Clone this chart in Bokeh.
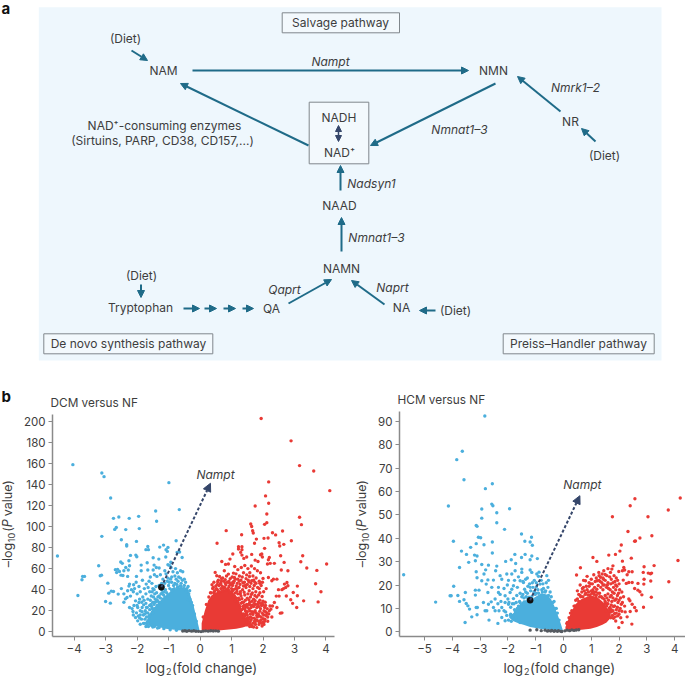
from math import pi
from bokeh.plotting import figure
from bokeh.layouts import column, row
from bokeh.models import Label, Arrow, NormalHead, FixedTicker
from bokeh.embed import file_html
from bokeh.resources import INLINE

FONT = "Inter"
TXT = "#3d3d3d"
BLUE = "#4bafdd"
RED = "#e93a35"
GREY = "#555a60"
TEAL = "#1f6b88"
NAVY = "#35466a"

pathway_boxes = [
    (281.7, 12.3, 399, 32.3),
    (308.7, 101.7, 368.3, 163.3),
    (43.3, 333.3, 212.3, 353.3),
    (502.7, 333.3, 653.7, 353.3),
]
plain_labels = [
    ("Salvage pathway", 340, 21.5), ("(Diet)", 125, 38), ("NAM", 163, 70), ("NMN", 493, 70),
    ("NR", 570, 121), ("(Diet)", 604, 155), ("NAD⁺-consuming enzymes", 164, 125),
    ("(Sirtuins, PARP, CD38, CD157,...)", 162, 140), ("NADH", 338.5, 117), ("NAD⁺", 339, 152),
    ("NAAD", 339, 205), ("NAMN", 341, 268), ("(Diet)", 141, 275), ("Tryptophan", 140, 307),
    ("QA", 271, 308), ("NA", 401, 307), ("(Diet)", 455, 310),
    ("De novo synthesis pathway", 128, 343), ("Preiss–Handler pathway", 578, 343),
]
italic_labels = [
    ("Nampt", 330, 61), ("Nmrk1–2", 575, 87), ("Nmnat1–3", 459, 129), ("Nadsyn1", 371, 183),
    ("Nmnat1–3", 376, 237), ("Qaprt", 284, 289), ("Naprt", 392, 287),
]
pathway_arrows = [
    (131, 50, 147, 60), (192, 70, 468, 70), (308, 145, 180, 83), (495, 83, 370, 145),
    (560, 111, 517, 76), (595, 141, 581, 128), (340, 190, 340, 165), (341, 251, 341, 217),
    (140.5, 284, 140.5, 297), (183, 308, 199, 308), (204, 308, 216, 308), (223, 308, 235, 308),
    (242, 308, 253, 308), (288, 303, 331, 279), (384, 304, 351, 280), (435, 310, 419, 310),
]

dcm_down = [
(-4.04,158.7),(-4.53,72),(-3.12,150.8),(-3.05,147.3),(-0.99,141.6),(-2.84,127),(-1.41,114.7),(-0.66,116),(-1.38,105),
(-2.75,107.7),(-2.58,109),(-2.25,107.7),(-1.95,109.6),(-2.66,99),(-2.71,97.2),(-2.36,97),(-1.93,98),(-3.12,90.6),
(-2.5,87.4),(-2.33,82.7),(-2.33,81.4),(-2.02,85.8),(-1.66,81),(-1.72,78),(-1.64,78),(-1.28,80.4),(-1.16,82.3),(-1.02,80.1),
(-1.08,78),(-1.04,76.3),(-0.76,86.5),(-0.73,75.4),(-0.65,75.7),(-0.57,70.6),(-2.21,72.5),(-2.04,72.8),(-2.01,71.3),
(-1.49,70.3),(-1.31,69),(-1.09,71),(-0.93,66),(-1.02,63.7),(-0.96,62.8),(-0.92,61.1),(-2.52,66.2),(-2.47,65),(-2.26,67.4),
(-2.24,62.7),(-2.36,61.1),(-2.28,58.6),(-3.22,62.7),(-2.69,59),(-2.62,59.3),(-2.56,57.3),(-2.65,56.3),(-2.42,58),
(-1.87,63.3),(-1.68,65.5),(-1.87,58),(-1.66,58.6),(-1.46,63.3),(-1.39,61.1),(-1.3,60.5),(-1.49,58.6),(-3.17,53.2),(-3.13,53.8),
(-3.73,52.6),(-3.67,52.6),(-3.75,49.4),(-2.51,53.8),(-2.45,53.5),(-2.3,52.6),(-2.93,46.2),(-2.02,52.6),(-2.24,45.3),(-2.26,43.4),
(-2.11,44.6),(-2.03,47),(-1.83,49),(-1.71,45.3),(-1.53,46),(-1.45,54.1),(-1.37,52.6),(-1.26,54.1),(-3.88,34.5),(-2.9,36.7),
(-2.82,38.6),(-2.75,38.3),(-2.6,35.8),(-3,28.8),(-2.85,27.2),(-2.42,28.1),(-2.37,31.3),(-2.32,32.6),(-2.21,33.9),(-2.24,23),
(-2.16,22),(-2.13,19.3),(-2.05,29.4),(-1.94,27.8),(-1.98,23),(-1.9,20),(-1.79,25.6),(-1.68,23),(-2.05,13.6),(-1.9,7.2),(-1.98,10.4),
(-1.84,23),(-1.7,18),(-1.75,12),(-1.8,8),(-1.6,25),(-1.5,28),(-1.42,31),(-1.3,34),(-1.2,37),(-1.1,40),(-1.0,44),(-0.9,47),
(-0.8,46),(-0.7,48),(-0.6,46),(-0.5,44),(-0.42,41),(-0.33,39),(-1.82,33),(-1.72,36),(-1.6,38),(-1.55,34),(-1.9,38),(-2.0,36),
(-2.12,38),(-2.18,40),(-1.77,41),(-1.65,42),(-1.46,40),(-1.38,37),(-1.3,44),(-1.12,46),(-1.02,51),(-0.9,52),(-0.8,53),(-0.72,56),
(-0.62,58),(-0.55,57),(-0.68,52),(-1.12,58),(-1.18,50),(-1.08,55),(-0.86,57),(-0.78,60),(-1.58,52),(-1.62,48),(-1.94,43),(-2.08,41),
(-1.52,22),(-1.62,15),(-1.66,10),(-1.58,8),(-1.72,5),(-1.45,5),(-1.3,4),(-1.15,3),(-0.95,2),(-0.75,1.5),(-1.9,16),(-2.02,18),
(-1.78,30),(-1.85,28),(-1.58,30),(-1.48,33),(-1.36,30),(-1.22,40),(-2.3,39),(-2.42,36),(-2.5,41),(-0.36,30),(-0.28,28),
(-0.24,20),(-0.2,14),(-0.98,47),(-0.72,42),(-0.88,40),(-1.7,14),(-1.8,16),(-1.86,12),(-1.74,20),(-1.66,18),(-1.6,21),(-1.54,24),
(-1.46,26),(-1.38,29),(-1.26,32),(-1.16,35),(-1.06,37),(-0.96,41),(-0.84,44),(-0.74,45),(-0.64,43.5),(-0.56,49),(-0.46,47),(-0.38,43),
(-1.22,46),(-1.16,43),(-1.04,48),(-0.94,50),(-0.76,50),(-0.62,51),(-0.5,50),(-1.44,36),(-1.52,38),(-1.4,43),(-1.5,41),(-1.66,31),
(-1.72,27),(-1.92,31),(-2.0,25),(-2.1,25),(-1.96,15),(-2.12,16),(-1.68,7),(-1.54,6),
(-1.68,9),(-1.62,12),(-1.6,16),(-1.5,18),(-1.46,22),(-1.36,25),(-1.3,28),(-1.18,31),(-1.12,33),(-1.02,35),(-0.9,39),(-0.82,41),
(-0.7,42),(-0.6,43),(-0.5,41),(-0.44,38),(-0.36,36),(-0.32,31),(-0.24,25),(-0.18,17),(-0.12,10),(-1.24,36),(-1.14,38),(-1.34,33),
(-1.42,28),(-1.56,26),(-1.7,23),(-1.76,17),(-1.84,19),(-1.92,13),(-1.76,8),(-1.64,5),(-1.5,4.5),(-1.35,3.5),
]
dcm_up = [
(1.94,202.5),(2.89,181.3),(3.16,157.8),(3.61,152.7),(2.18,142.3),(4.12,134),(2.08,129),(2.18,122),(1.75,119.4),(2.12,111.8),
(3.16,108.7),(2.12,103.6),(2.05,102),(3.22,101.7),(1.61,102.3),(1.64,100),(1.67,96),(1.69,93.8),(0.83,96),(2.3,94),(2.4,92),
(2.62,95.7),(1.32,92.2),(2.03,88.7),(2.16,89),(1.79,88),(1.73,84),(2.9,86.5),(0.54,84),(2.51,84.6),(2.53,81.4),(2.66,83),(2.05,79.2),
(1.22,80.8),(1.33,80.8),(1.22,78.5),(1.33,78),(1.29,75.4),(1.33,72.8),(1.39,69.7),(1.04,73.8),(0.95,69),(0.69,66.8),(0.81,64),
(0.9,64.3),(1.48,71),(1.64,73.5),(1.92,73.2),(1.96,73.8),(1.98,71),(1.75,68),(1.84,66.8),(2.2,70.6),(2.17,68.4),(2.14,64.3),(2.56,72.2),
(3.26,72.2),(3.2,66.5),(2.67,65.9),(4.02,64.3),(3.39,60.5),(3.71,58.3),(2.58,58.6),(2.79,58),(2.23,65),(2.36,65),(0.48,56.4),(0.53,53.2),
(0.77,58),(0.9,54.8),(1.06,55.7),(0.38,44.6),(0.58,49),(0.68,50.5),(3.67,45.6),(3.09,43.4),(3.84,38),(3.75,28.4),(3.29,29.4),(2.96,37.3),
(3.09,34.2),(2.88,30.4),(2.94,27),(3.07,23),(2.76,46.8),(2.68,45.3),(2.79,43.7),(2.72,42),(2.44,50),(2.33,50),(2.28,48.4),(2.17,51.6),
(2,50.7),(2.49,40),(2.6,40),(2.65,41),(2.51,33.9),(2.42,33.9),(2.74,34),(2.36,27.8),(2.3,24.5),(2.25,21.5),(2.44,23),(2.22,24.5),
(2.6,18),(2.55,17.7),(1.1,62),(1.2,59),(1.31,61),(1.42,63),(1.52,60),(1.63,62.5),(1.73,60),(1.82,58),(1.92,56),(1.02,52),(1.14,55),
(1.25,53),(1.38,56),(1.48,54),(1.58,56),(1.68,53),(1.78,51),(1.88,48),(0.55,45),(0.65,46),(0.76,48),(0.87,47),(0.97,45),(1.08,48),(1.18,46),
(1.3,49),(1.41,47),(1.53,49),(1.62,46),(1.72,44),(1.83,42),(1.94,44),(0.45,38),(0.55,40),(0.66,41),(0.78,42),(0.9,40),(1.02,38.5),
(1.13,41),(1.24,42),(1.35,40),(1.46,42),(1.56,39),(1.66,37),(1.77,38),(1.9,37),(2.02,38),(2.1,41),(0.4,33),(1.08,34),(1.2,36),(1.3,34),
(1.42,35),(1.5,32),(1.6,33),(1.7,31),(1.8,33),(1.9,30),(2.0,29),(1.38,28),(1.48,26),(1.58,28),(1.66,25),(1.75,26),(1.86,24),(1.95,25),
(2.05,23),(2.12,18),(2.02,16),(1.44,20),(1.55,22),(1.65,19),(1.75,20),(1.85,17),(1.94,14),(2.06,12),(2.15,14),(1.5,16),(1.6,14),
(1.72,13),(1.8,11),(1.9,9),(2.0,9),(1.58,9),(1.68,8),(1.76,7),(1.62,6),(1.5,11),(1.44,7),(2.2,20),(2.28,14),
(0.62,52.5),(0.72,51),(0.84,53),(0.96,50.5),(1.09,51.5),(1.2,50),(1.34,52),(1.46,50.5),(1.57,52.5),(1.7,49),
(0.42,42),(0.5,43.5),(0.6,44),(0.71,43),(0.82,44.5),(0.92,43),(1.03,44),(1.15,43.5),(1.27,45),(1.38,43.5),(1.5,45),(1.58,43),(1.68,41),(1.78,46),(1.88,41),
(0.36,37),(0.47,39),(0.58,37.5),(0.7,38.5),(0.82,40),(0.94,38),(1.06,40),(1.17,38.5),(1.28,38),(1.4,37.5),(1.52,36),(1.63,35.5),(1.74,34.5),(1.86,35),(1.97,33.5),
(1.15,32),(1.25,30.5),(1.33,31.5),(1.44,30),(1.55,30.5),(1.65,29),(1.75,29.5),(1.85,28),(1.97,27),(2.07,28),
(1.3,27),(1.4,25),(1.5,23.5),(1.6,25.5),(1.7,24),(1.8,23),(1.92,22),(2.03,20),(2.13,22),
(1.38,22),(1.47,18),(1.58,20),(1.68,16.5),(1.78,18),(1.9,19.5),(2.0,12.5),(2.1,15.5),
(1.42,15),(1.52,13.5),(1.62,11),(1.73,10),(1.82,14),(1.93,11),(2.03,7),(2.15,10),
(1.44,12),(1.55,7.5),(1.65,5),(1.75,9),(1.87,7),(1.97,5.5),(1.48,9.5),(1.58,5),(1.7,4.5),(1.8,4),
(0.1,14),(0.2,26),(0.28,33),(0.33,37),(0.4,41),(0.46,36),(0.52,41),(0.62,38),(0.66,45),(0.74,41),(0.8,46),(0.88,41),(0.94,46),(1.0,41),(1.05,46),
(1.12,37),(1.18,41),(1.22,32),(1.28,36),(1.34,28),(1.36,24),(1.42,22),(1.46,17),(1.5,13),(1.56,9),(1.6,7),(0.44,47),(0.56,47.5),(0.68,48),(0.8,49.5),
(0.92,48),(1.04,47),(1.12,50),(1.24,48),(1.36,46.5),(1.44,44),(1.55,47.5),(1.64,48.5),(1.74,47),(1.9,46),(1.98,47),(1.12,29),(1.2,28),(1.26,24),
(1.32,21),(1.38,17),(1.46,24),(1.54,26),(1.62,23),(1.72,27),(1.82,26),(1.9,27),(2.0,25.5),(2.08,25),(1.4,14),(1.5,19),(1.6,17),(1.7,18.5),(1.8,15.5),
(1.88,15),(1.98,17.5),(2.08,19),(2.18,17),(1.56,12),(1.66,13),(1.76,11.5),(1.86,10),(1.96,8),(2.05,10),
]
hcm_down = [
(-2.83,92.3),(-3.64,77.2),(-3.84,73.6),(-3.58,65),(-2.56,63.3),(-2.81,61.2),(-4.14,53.8),(-2.94,52.5),(-2.58,54.6),(-2.54,53.9),
(-1.94,52.6),(-2.4,50.9),(-2.94,48.6),(-2.4,46.6),(-3.14,45.5),(-3.11,45.1),(-2.12,43.8),(-1.51,41.8),(-1.15,40.4),(-1.39,38.7),
(-1.2,38.4),(-1.12,37),(-3.06,40.4),(-2.98,40.2),(-2.56,38.4),(-3.96,38.7),(-3.14,37.7),(-2.86,37.2),(-3.34,36.1),(-3.67,34.5),
(-2.56,33.7),(-3.49,33.1),(-3.2,32.8),(-3.11,32.4),(-1.75,33.1),(-1.38,33.1),(-1.51,31.8),(-1.14,32.4),(-0.94,31.3),(-1.72,29.2),
(-1.88,30.8),(-2.08,30.1),(-1.2,30.8),(-3.41,29.7),(-3.17,30.4),(-2.94,28.8),(-2.7,28.5),(-2.4,28.1),(-3.74,27.5),(-2.8,26.5),(-2.44,26.1),
(-3.14,25.7),(-2.86,24.7),(-3.11,23.1),(-2.94,21.8),(-2.72,22.2),(-2.52,22.1),(-5.75,24.4),(-2.28,24),(-2.22,22.5),(-2.04,24.7),
(-1.86,24.7),(-1.74,26.1),(-1.5,26.8),(-1.5,25.4),(-1.2,26.4),(-1.14,25.4),(-0.96,24.7),(-0.9,23.7),(-0.6,24),(-3.95,19.5),(-2.78,20.4),
(-2.58,19),(-2.34,19),(-3.17,17.8),(-3.04,17.8),(-2.72,16.8),(-2.34,16.8),(-2.1,15.4),(-1.92,16.8),(-1.8,19.7),(-1.56,21.8),(-1.44,21.1),
(-4.08,15.4),(-4.04,15.4),(-3.8,15.5),(-3.53,16.8),(-3.17,15.7),(-3.74,13),(-3.58,13.7),(-4.6,12.7),(-3.5,12.1),(-3.44,11.1),(-3.38,9.7),
(-3.1,10.4),(-3.14,10.4),(-2.88,12.5),(-2.7,11.8),(-2.76,9),(-2.46,9),(-2.52,10.4),(-2.22,10.4),(-1.98,11.8),(-3.3,6.4),(-3.11,7.3),
(-3.54,4),(-2.82,9),(-2.68,5),(-2.36,3.6),(-2.22,6.1),(-2.1,4.7),(-1.96,12.5),(-1.8,14.2),(-1.68,15.5),(-1.56,16.5),(-1.4,18.2),(-1.28,19.5),
(-1.1,19),(-0.98,19.2),(-0.84,20.4),(-0.72,18.5),(-0.56,19),(-0.48,17),(-1.66,19),(-1.86,18.2),(-2.02,20),(-1.36,22.5),(-1.22,20.5),
(-1.05,22),(-0.8,22),(-1.5,15),(-1.62,11),(-1.76,9.5),(-1.9,7.5),(-2.04,7),(-2.14,9),(-1.84,12),(-2.0,14),(-2.46,14),(-2.6,12.8),(-2.36,12),
(-2.25,13),(-0.34,13),(-0.26,10),(-1.98,5),(-1.72,6),(-1.56,4),(-1.3,16.5),(-1.18,17.5),(-1.06,17),(-0.92,18),(-0.78,18),(-0.64,17.5),
(-1.46,16),(-1.34,15),(-1.24,14.8),(-1.0,16.5),(-1.7,12.5),(-1.58,13),(-1.52,11.5),(-1.78,12),(-1.9,10.5),(-2.1,12.5),(-2.32,9),(-2.08,8.5),
(-1.64,9),(-1.82,6.5),(-1.88,4.5),(-1.46,21.5),(-1.3,23),(-1.12,21),(-1.62,23.5),(-1.76,22),(-1.98,22),(-2.14,18.5),(-2.28,16),(-0.88,25.5),
(-1.9,7),(-1.74,9),(-1.66,10),(-1.56,12.5),(-1.42,14.5),(-1.28,14),(-1.14,15),(-1.02,16),(-0.9,16.5),(-0.76,17),(-0.66,17),(-0.54,15.5),
(-0.44,15),(-0.38,12.5),(-0.3,10),(-0.22,8),(-0.16,5),(-1.36,17),(-1.2,19),(-0.98,21),(-0.74,20.5),(-0.62,21),(-0.54,22),
]
hcm_up = [
(2.57,56.9),(4.2,57.2),(2.4,53.9),(3.77,52.1),(1.76,49.2),(3.04,49.2),(2.32,42.9),(3.18,41.1),(2.75,40.1),(2.59,38.8),(2.56,38.7),
(2.08,37.1),(2.03,34.5),(1.87,33.1),(1.63,32.8),(1.06,31.8),(1.2,30.1),(2.44,31.5),(2.12,30.2),(4.12,30.5),(0.61,27.4),(0.47,24.3),
(3.26,28.3),(2.9,27.8),(2.87,25.4),(3.13,24.8),(3.05,25.1),(3.17,25.1),(1.78,28.2),(1.74,26.8),(1.69,25.4),(2.17,27.5),(2.2,26.4),(2.12,26.1),
(1.99,25.8),(2.47,25.7),(2.35,25.7),(2.29,24.4),(3.79,21.4),(3.14,21.7),(2.9,22.5),(2.89,20.4),(2.68,20.7),(2.47,21.1),(2.35,21.1),(2.26,20.7),
(2.15,22.1),(2.56,18.5),(2.68,17.8),(2.75,17.1),(2.82,15.8),(3.16,14.8),(2.88,10.5),(2.62,9),(2.56,10.4),(2.47,11.8),(2.35,14),(2.39,13.3),
(2.4,8.7),(2.46,3.3),(2.29,6.4),(2.11,4),(1.99,1.8),(1.33,23.3),(1.39,24.7),(1.21,21.8),(0.85,23.7),(0.79,21.8),(1.09,24.4),(1.27,25.4),(1.45,26.1),
(0.72,19),(0.85,18),(0.98,20.5),(1.12,19),(1.25,19.8),(1.38,21),(1.5,22),(1.6,21),(1.72,22.5),(1.85,21.5),(1.95,22),(0.55,16),(0.66,17),(0.78,16),
(0.9,17),(1.02,16.5),(1.16,17),(1.3,16.5),(1.42,18),(1.55,19),(1.68,18),(1.8,19),(1.92,19.5),(2.02,18),(2.1,17),(1.5,15.5),(1.6,16.2),(1.72,15.5),
(1.82,16.5),(1.94,15.5),(2.05,14.5),(2.16,15),(1.5,13),(1.62,13.5),(1.74,13),(1.85,13.5),(1.96,12.5),(2.08,11.8),(2.2,11),(1.55,11),(1.68,10.5),
(1.8,10.8),(1.9,9.5),(2.0,9),(2.1,8.8),(2.22,8.5),(1.72,8.5),(1.84,7.8),(1.95,6.8),(2.06,6),(1.8,5.8),(1.88,4.6),(1.7,6),(0.5,14),(0.42,11),
(0.3,9),(0.2,6),(0.14,4),(1.45,11),(1.52,9),(0.62,15),(1.0,22.5),(1.14,21.5),(1.28,22),(1.42,20),(1.56,24),(1.66,23.5),(1.82,24),(1.9,23),
(0.92,19.5),(1.06,18),(1.2,18.2),(1.34,19),(1.47,20),(1.62,18.5),(1.76,17),(1.88,18),(1.98,16.5),(0.75,17.5),(0.96,15.8),(1.1,16),(1.24,16.5),(1.36,15),
(1.46,14),(1.56,14.5),(1.68,15),(1.78,14.5),(1.9,14),(2.0,13.5),(2.12,12.5),(1.6,12),(1.72,11.5),(1.84,11),(1.94,10.5),(2.04,10),(1.66,9),(1.78,9),
(1.9,8),(2.0,7.5),(1.76,7),(1.86,6.4),
(0.12,3.5),(0.25,8),(0.38,11),(0.44,13.5),(0.55,13),(0.6,15.5),(0.7,15),(0.8,16.5),(0.88,15.7),(1.0,17.5),(1.08,17),(1.18,15.5),(1.3,15),(1.4,14.5),
(1.48,12),(1.56,12),(1.64,10),(1.72,9.5),(0.68,18.5),(0.82,19.5),(0.92,21),(1.04,20.5),(1.18,23),(1.32,21.5),(1.44,22.5),(1.58,20),(1.7,20.5),
(1.78,21),(1.88,20),(2.0,20.5),(1.6,27),(1.5,24.5),(1.42,23),(1.28,24),(0.72,22),(0.6,20),(0.5,17.5),
]
dcm_grey = [(-0.55,0.7),(-0.48,1.0),(-0.42,0.5),(-0.35,1.1),(-0.27,0.6),(-0.2,1.0),(-0.13,0.5),(-0.05,0.4),(0.03,0.2),(0.1,0.6),
            (0.18,0.9),(0.26,0.6),(0.34,1.0),(0.42,0.7),(0.5,0.9),(0.58,0.6)]
hcm_grey = [(-1.2,0.7),(-0.96,0.9),(-0.8,0.5),(-0.66,0.7),(-0.58,0.3),(-0.54,0.5),(-0.46,0.3),(-0.42,0.6),(-0.34,0.2),(-0.3,0.5),(-0.22,0.2),
            (-0.18,0.5),(-0.1,0.2),(-0.06,0.1),(0.05,0.4),(0.13,0.7),(0.22,0.5),(0.3,0.8),(0.38,0.6),(0.46,0.8),(0.55,0.9)]
dcm_core_down = [(-1.65,6,14),(-1.55,5.5,20),(-1.4,5,25),(-1.25,4,30),(-1.1,3,34),(-0.95,2.5,38),(-0.75,1.7,41),(-0.52,1,42.5),(-0.38,0.5,40),(-0.3,0.3,34),(-0.2,0.1,24),(-0.1,0,12),(-0.02,0,2)]
dcm_core_up = [(0.05,0.2,8),(0.15,0.4,20),(0.26,0.5,30),(0.38,0.7,35),(0.5,1,37),(0.75,1.8,40),(1.0,2.5,39),(1.15,3,34),(1.27,3.5,26),(1.35,4,18),(1.45,5,12),(1.55,5,7)]
hcm_core_down = [(-1.95,6,6.5),(-1.8,4.5,8),(-1.6,3.5,11),(-1.44,3,13.5),(-1.2,2,13.5),(-1.0,1.6,15),(-0.8,1.2,16.5),(-0.6,1,16),(-0.45,0.8,14),(-0.33,0.6,11),(-0.2,0.5,7),(-0.1,0.3,3.5),(-0.02,0.2,0.6)]
hcm_core_up = [(0.07,0.5,2),(0.18,0.6,5.5),(0.3,0.6,9),(0.45,0.7,12),(0.65,0.9,14),(0.97,1.3,15.5),(1.2,2,15),(1.4,3,13),(1.55,4,10.5),(1.7,6,8)]
dcm_nampt = (-1.23, 42.4)
hcm_nampt = (-1.2, 13.5)
dcm_pointer_tip = (0.33, 141)
hcm_pointer_tip = (0.59, 58.2)
dcm_x_ticks = [-4, -3, -2, -1, 0, 1, 2, 3, 4]
dcm_y_ticks = list(range(0, 201, 20))
hcm_x_ticks = [-5, -4, -3, -2, -1, 0, 1, 2, 3, 4]
hcm_y_ticks = list(range(0, 91, 10))


def xy(pairs):
    return [a for a, _ in pairs], [b for _, b in pairs]


def blank(width, height):
    f = figure(width=width, height=height, x_range=(0, width), y_range=(height, 0), output_backend="svg",
               toolbar_location=None, min_border=0, outline_line_color=None)
    f.axis.visible = False
    f.grid.visible = False
    return f


d = blank(685, 380)
d.quad(left=[38.3], right=[661], top=[6.7], bottom=[360], fill_color="#eef7fd", line_color=None)
bx0, by0, bx1, by1 = zip(*pathway_boxes)
d.quad(left=bx0, right=bx1, top=by0, bottom=by1, fill_color="#f3f9fd", line_color="#80878c", line_width=1)
for t, x, y in plain_labels:
    d.add_layout(Label(x=x, y=y, text=t, text_align="center", text_baseline="middle", text_font=FONT,
                       text_font_size="12px", text_color=TXT))
for t, x, y in italic_labels:
    d.add_layout(Label(x=x, y=y, text=t, text_align="center", text_baseline="middle", text_font=FONT,
                       text_font_size="12px", text_font_style="italic", text_color=TXT))
d.add_layout(Label(x=1, y=8, text="a", text_align="left", text_baseline="middle", text_font=FONT,
                   text_font_size="15px", text_font_style="bold", text_color="#111111"))
for x0, y0, x1, y1 in pathway_arrows:
    d.add_layout(Arrow(x_start=x0, y_start=y0, x_end=x1, y_end=y1, line_color=TEAL, line_width=2,
                       end=NormalHead(size=7, fill_color=TEAL, line_color=TEAL, line_width=1)))
d.add_layout(Arrow(x_start=338, y_start=125, x_end=338, y_end=141, line_color=NAVY, line_width=1.5,
                   start=NormalHead(size=6, fill_color=NAVY, line_color=NAVY),
                   end=NormalHead(size=6, fill_color=NAVY, line_color=NAVY)))


def volcano(title, strip_w, width, left, right, top, xr, yr, xt, yt, down, up, grey, core_d, core_u, nampt, tip,
            name_xy, x_label_at, y_label_at, blet=False):
    p = figure(title=title, width=width, height=277, x_range=xr, y_range=yr, output_backend="svg",
               toolbar_location=None, min_border_left=left, min_border_right=right, min_border_top=top,
               min_border_bottom=21, outline_line_color=None)
    p.title.text_font = FONT
    p.title.text_font_size = "11.8px"
    p.title.text_font_style = "normal"
    p.title.text_color = TXT
    p.title.offset = -2
    p.title.standoff = 10
    p.grid.visible = False
    for ax in (p.xaxis[0], p.yaxis[0]):
        ax.axis_line_color = "#8a8a8a"
        ax.axis_line_width = 1.5
        ax.major_tick_line_color = "#8a8a8a"
        ax.major_tick_in = 0
        ax.major_tick_out = 4
        ax.minor_tick_line_color = None
        ax.major_label_text_font = FONT
        ax.major_label_text_font_size = "11.5px"
        ax.major_label_text_color = TXT
        ax.major_label_standoff = 3
    p.xaxis[0].ticker = FixedTicker(ticks=xt)
    p.yaxis[0].ticker = FixedTicker(ticks=yt)
    p.xaxis[0].major_label_overrides = {v: ("−" + str(-v) if v < 0 else str(v)) for v in xt}
    for core, col in ((core_d, BLUE), (core_u, RED)):
        cx, lo, hi = zip(*core)
        p.varea(x=list(cx), y1=list(lo), y2=list(hi), fill_color=col)
    for pts, col in ((down, BLUE), (up, RED), (grey, GREY)):
        x, y = xy(pts)
        p.scatter(x=x, y=y, size=3.4, fill_color=col, line_color=None)
    p.add_layout(Arrow(x_start=nampt[0], y_start=nampt[1], x_end=tip[0], y_end=tip[1], line_color=NAVY,
                       line_width=2, line_dash="3 2", end=NormalHead(size=8, fill_color=NAVY, line_color=NAVY)))
    p.scatter(x=[nampt[0]], y=[nampt[1]], size=6.5, fill_color="#111111", line_color=None)
    p.add_layout(Label(x=name_xy[0], y=name_xy[1], text="Nampt", text_align="center", text_baseline="middle",
                       text_font=FONT, text_font_size="12px", text_font_style="italic", text_color=TXT))

    # strip above the y-title strip, level with the title
    head = blank(strip_w, top)
    if blet:
        head.add_layout(Label(x=1, y=16, text="b", text_align="left", text_baseline="middle", text_font=FONT,
                              text_font_size="15px", text_font_style="bold", text_color="#111111"))
    # y-title strip, level with the plot frame
    frame_h = 277 - top - 21
    ys = blank(strip_w, frame_h)
    base = frame_h - (636 - 566.7)
    for t, off, dx, size, style in (("–log", 0, 0, "12.5px", "normal"), ("10", 25, 4, "9px", "normal"),
                                    ("(", 35.5, 0, "12.5px", "normal"), ("P", 40, 0, "12.5px", "italic"),
                                    ("value)", 51, 0, "12.5px", "normal")):
        ys.add_layout(Label(x=y_label_at + dx, y=base - off, text=t, angle=pi / 2, text_align="left",
                            text_baseline="middle", text_font=FONT, text_font_size=size,
                            text_font_style=style, text_color=TXT))
    # x-title strip
    xs = blank(strip_w + width, 19)
    for t, px, py, size in (("log", x_label_at, 10, "13.5px"), ("2", x_label_at + 20.5, 14, "9px"),
                            ("(fold change)", x_label_at + 26.5, 10, "13.5px")):
        xs.add_layout(Label(x=px, y=py, text=t, text_align="left", text_baseline="middle", text_font=FONT,
                            text_font_size=size, text_color=TXT))
    return column(row(column(head, ys, spacing=0), p, spacing=0), xs, spacing=0)


left_p = volcano("DCM versus NF", 16, 326, 36, 8, 34, (-4.687, 4.27), (-4.47, 206.3), dcm_x_ticks, dcm_y_ticks,
                 dcm_down, dcm_up, dcm_grey, dcm_core_down, dcm_core_up, dcm_nampt, dcm_pointer_tip,
                 (0.49, 149), 145, 7, blet=True)
right_p = volcano("HCM versus NF", 30, 313, 27, 0, 31, (-5.90, 4.39), (-2.01, 94.2), hcm_x_ticks, hcm_y_ticks,
                  hcm_down, hcm_up, hcm_grey, hcm_core_down, hcm_core_up, hcm_nampt, hcm_pointer_tip,
                  (0.68, 62.9), 161, 19)

page = column(d, row(left_p, right_p, spacing=0), spacing=0)
open("out.html", "w").write(file_html(page, INLINE))
